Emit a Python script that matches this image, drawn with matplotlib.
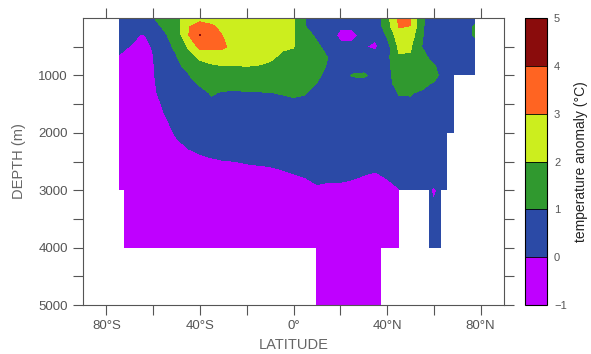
import numpy as np
import matplotlib.pyplot as plt
from matplotlib.ticker import FixedLocator

plt.rcParams['font.family'] = ['Liberation Sans', 'DejaVu Sans']

# grid of the section: latitude columns and depth levels (m)
lat = [-75, -70, -65, -60, -55, -50, -45, -40, -35, -30, -25, -20, -15, -10, -5, 0,
       5, 10, 15, 20, 25, 30, 35, 40, 45, 50, 55, 60, 65, 70, 75, 80]
depth = [0, 150, 300, 500, 700, 850, 1000, 1150, 1300, 1600, 2000, 2300, 2600, 3000, 4000, 5000]

# temperature anomaly (degC), one profile per latitude column, top to bottom
profiles = [
    [0.6, 0.5, 0.35, 0.15, -0.05, -0.15, -0.25, -0.3, -0.35, -0.4, -0.45, -0.5, -0.5, -0.5, -0.5, -0.5],
    [0.6, 0.45, 0.25, -0.02, -0.2, -0.3, -0.35, -0.4, -0.4, -0.45, -0.45, -0.5, -0.5, -0.5, -0.5, -0.5],
    [0.5, 0.25, -0.05, -0.25, -0.35, -0.4, -0.4, -0.45, -0.45, -0.45, -0.5, -0.5, -0.5, -0.5, -0.5, -0.5],
    [0.95, 0.7, 0.1, 0.05, -0.03, -0.06, -0.08, -0.1, -0.1, -0.2, -0.3, -0.4, -0.45, -0.5, -0.5, -0.5],
    [1.4, 1.15, 0.9, 0.8, 0.7, 0.6, 0.5, 0.35, 0.2, 0.035, -0.15, -0.25, -0.35, -0.4, -0.5, -0.5],
    [1.75, 1.6, 1.4, 1.12, 0.95, 0.85, 0.75, 0.65, 0.55, 0.35, 0.05, -0.12, -0.25, -0.35, -0.5, -0.5],
    [2.5, 2.9, 2.95, 2.1, 1.45, 1.15, 0.95, 0.85, 0.75, 0.55, 0.3, -0.02, -0.2, -0.35, -0.5, -0.5],
    [2.5, 3.6, 4.05, 3.3, 2.1, 1.7, 1.4, 1.05, 0.85, 0.65, 0.45, 0.05, -0.15, -0.3, -0.5, -0.5],
    [2.4, 3.2, 3.4, 3.2, 2.3, 1.85, 1.55, 1.25, 1.05, 0.8, 0.5, 0.1, -0.12, -0.3, -0.5, -0.5],
    [2.3, 2.6, 2.95, 3.15, 2.4, 1.95, 1.6, 1.25, 0.95, 0.75, 0.5, 0.15, -0.1, -0.3, -0.5, -0.5],
    [2.3, 2.45, 2.6, 2.6, 2.3, 1.95, 1.6, 1.3, 0.9, 0.75, 0.5, 0.15, -0.08, -0.3, -0.5, -0.5],
    [2.3, 2.4, 2.55, 2.5, 2.3, 1.98, 1.65, 1.3, 0.95, 0.75, 0.5, 0.2, -0.05, -0.3, -0.5, -0.5],
    [2.25, 2.35, 2.5, 2.45, 2.2, 1.95, 1.65, 1.3, 0.97, 0.75, 0.5, 0.22, -0.03, -0.3, -0.5, -0.5],
    [2.25, 2.35, 2.45, 2.35, 2.1, 1.85, 1.6, 1.3, 0.99, 0.75, 0.5, 0.25, -0.01, -0.25, -0.5, -0.5],
    [2.2, 2.25, 2.3, 2.1, 1.85, 1.65, 1.45, 1.25, 1.03, 0.78, 0.52, 0.27, 0.03, -0.25, -0.5, -0.5],
    [2.05, 2.08, 2.1, 2.03, 1.75, 1.6, 1.45, 1.25, 1.08, 0.8, 0.55, 0.3, 0.08, -0.2, -0.5, -0.5],
    [0.98, 1.02, 1.3, 1.45, 1.45, 1.4, 1.3, 1.2, 1.03, 0.8, 0.55, 0.35, 0.12, -0.15, -0.5, -0.5],
    [0.5, 0.65, 0.85, 1.15, 1.3, 1.25, 1.12, 0.97, 0.85, 0.7, 0.55, 0.35, 0.15, -0.05, -0.5, -0.5],
    [0.5, 0.45, 0.4, 0.7, 0.98, 0.9, 0.8, 0.7, 0.65, 0.6, 0.5, 0.35, 0.15, -0.08, -0.5, -0.5],
    [0.4, 0.1, -0.2, 0.2, 0.45, 0.55, 0.6, 0.6, 0.6, 0.55, 0.5, 0.35, 0.15, -0.08, -0.5, -0.5],
    [0.35, 0.1, -0.2, 0.15, 0.5, 0.7, 1.05, 0.7, 0.6, 0.55, 0.5, 0.4, 0.12, -0.1, -0.5, -0.5],
    [0.3, 0.3, 0.2, 0.05, 0.4, 0.75, 1.1, 0.75, 0.65, 0.6, 0.5, 0.35, 0.08, -0.15, -0.5, -0.5],
    [0.35, 0.35, 0.15, -0.15, 0.35, 0.6, 0.75, 0.7, 0.65, 0.6, 0.5, 0.3, 0.05, -0.2, -0.5, -0.5],
    [1.7, 1.5, 1.1, 0.6, 0.7, 0.72, 0.72, 0.7, 0.68, 0.62, 0.55, 0.35, 0.1, -0.1, -0.5, -0.5],
    [3.15, 3.05, 2.55, 2.15, 1.9, 1.6, 1.45, 1.3, 1.03, 0.85, 0.6, 0.4, 0.2, -0.02, -0.5, -0.5],
    [3.1, 2.98, 2.5, 2.1, 1.9, 1.6, 1.4, 1.25, 1.05, 0.8, 0.6, 0.45, 0.35, 0.3, 0.5, 0.5],
    [1.1, 1.08, 1.05, 0.97, 1.35, 1.4, 1.35, 1.2, 0.9, 0.75, 0.6, 0.45, 0.35, 0.3, 0.5, 0.5],
    [0.6, 0.55, 0.5, 0.55, 0.68, 1.1, 1.3, 0.9, 0.75, 0.6, 0.5, 0.45, 0.6, -0.1, 0.5, 0.5],
    [0.5, 0.5, 0.5, 0.5, 0.5, 0.5, 0.5, 0.5, 0.5, 0.5, 0.5, 0.5, 0.5, 0.3, 0.5, 0.5],
    [0.5, 0.5, 0.5, 0.5, 0.5, 0.5, 0.5, 0.5, 0.5, 0.5, 0.5, 0.5, 0.5, 0.5, 0.5, 0.5],
    [0.55, 0.6, 0.6, 0.55, 0.5, 0.5, 0.5, 0.5, 0.5, 0.5, 0.5, 0.5, 0.5, 0.5, 0.5, 0.5],
    [0.5, 2.0, 2.0, 0.5, 0.5, 0.5, 0.5, 0.5, 0.5, 0.5, 0.5, 0.5, 0.5, 0.5, 0.5, 0.5],
]

# ocean floor / no-data depth for each latitude band (step edges)
floor_lat = [-90, -74.6, -72.4, 9.5, 37.5, 45.3, 57.8, 63, 65.5, 68.5, 77.5, 90]
floor_depth = [0, 3000, 4000, 5000, 4000, 3000, 4000, 3000, 2000, 1000, 0, 0]

levels = [-1, 0, 1, 2, 3, 4, 5]
level_colors = ['#bf00ff', '#2b4aa6', '#30992f', '#ccee1e', '#ff6422', '#8a0c0c']

lat_ticks = [-80, -40, 0, 40, 80]
lat_labels = ['80°S', '40°S', '0°', '40°N', '80°N']
depth_ticks = [1000, 2000, 3000, 4000, 5000]

anomaly = np.array(profiles).T
gray = '#555555'

fig = plt.figure(figsize=(5.91, 3.54), dpi=100)
ax = fig.add_axes([83 / 591, 49 / 354, 421 / 591, 287 / 354])

cs = ax.contourf(lat, depth, anomaly, levels=levels, colors=level_colors)
ax.fill_between(floor_lat, floor_depth, 5000, step='post', color='white', lw=0)

ax.set_xlim(-90, 90)
ax.set_ylim(5000, 0)
ax.set_xticks(lat_ticks, lat_labels)
ax.xaxis.set_minor_locator(FixedLocator([-60, -20, 20, 60]))
ax.set_yticks(depth_ticks)
ax.yaxis.set_minor_locator(FixedLocator([500, 1500, 2500, 3500, 4500]))
ax.tick_params(which='both', direction='out', length=7, width=0.8, top=True, right=True,
               color=gray, labelcolor=gray, labelsize=9.5, pad=4)
for sp in ax.spines.values():
    sp.set_color(gray)
    sp.set_linewidth(0.8)

ax.set_xlabel('LATITUDE', fontsize=10.5, color='#666666')
ax.set_ylabel('DEPTH (m)', fontsize=10.5, color='#666666')
ax.xaxis.set_label_coords(0.5, -0.115)
ax.yaxis.set_label_coords(-0.135, 0.5)

cax = fig.add_axes([525 / 591, 49 / 354, 22 / 591, 287 / 354])
cb = fig.colorbar(cs, cax=cax, ticks=levels, drawedges=True)
cb.outline.set_edgecolor('black')
cb.outline.set_linewidth(0.8)
cb.dividers.set_color('black')
cb.dividers.set_linewidth(0.6)
cax.tick_params(length=0, labelsize=8, labelcolor=gray, pad=5)
cb.set_label('temperature anomaly (°C)', fontsize=10, color='#222222', labelpad=5)

fig.savefig('out.png', dpi=100)
